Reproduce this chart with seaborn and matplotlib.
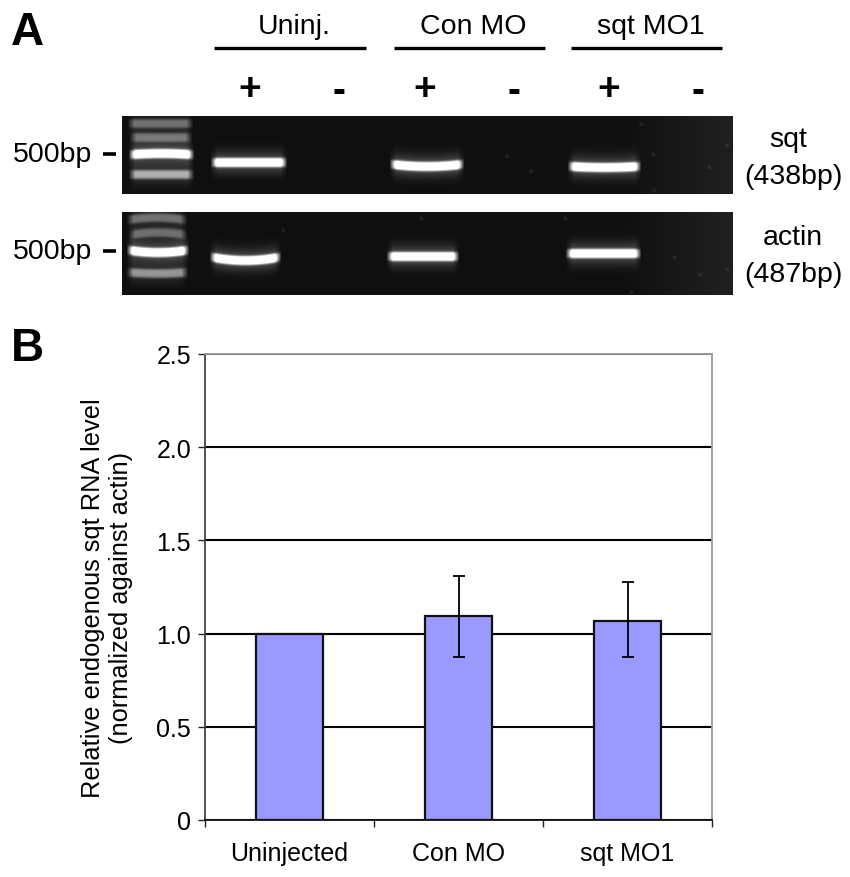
import matplotlib
matplotlib.use("Agg")
import matplotlib.pyplot as plt
import seaborn as sns
import pandas as pd
import numpy as np

# bar chart values
groups = ["Uninjected", "Con MO", "sqt MO1"]
levels = [1.0, 1.095, 1.07]
err_low = [0.0, 0.22, 0.195]
err_high = [0.0, 0.215, 0.205]
yticks = [0, 0.5, 1.0, 1.5, 2.0, 2.5]
ytick_labels = ["0", "0.5", "1.0", "1.5", "2.0", "2.5"]

# gel bands: x start, x end, y, brightness, sag (image pixels)
gel1_bands = [(131, 189, 124, 0.30, 0), (133, 188, 138, 0.30, 0),
              (132, 190, 155, 1.0, -1), (132, 190, 175, 0.50, 0),
              (214, 283, 163, 1.0, 0), (393, 460, 165, 1.0, 2), (571, 637, 167, 1.0, 1)]
gel2_bands = [(130, 183, 220, 0.30, -2), (132, 183, 235, 0.28, -2),
              (130, 185, 251, 1.0, 2), (130, 184, 273, 0.42, 1),
              (213, 277, 258, 1.0, 3), (390, 455, 257, 1.0, 0), (569, 637, 254, 1.0, 0)]
gel1_specks = [(507, 157), (531, 172), (654, 191), (641, 125), (653, 155), (727, 146), (709, 168)]
gel2_specks = [(283, 231), (421, 219), (565, 219), (700, 275), (631, 293), (727, 270), (674, 258)]

sns.set_theme(style="white")
plt.rcParams['font.family'] = ['Liberation Sans', 'DejaVu Sans']


def make_gel(x0, x1, y0, y1, bands, specks):
    xx, yy = np.meshgrid(np.arange(x0, x1), np.arange(y0, y1))
    img = 0.06 + 0.06 * np.clip((xx - 620) / 100, 0, 1)
    for b0, b1, by, amp, sag in bands:
        mid = (b0 + b1) / 2
        half = (b1 - b0) / 2
        cy = by + sag * (1 - ((xx - mid) / half) ** 2)
        edge = np.clip((xx - b0 + 4) / 7, 0, 1) * np.clip((b1 - xx + 4) / 7, 0, 1)
        core = np.exp(-((yy - cy) / 4.6) ** 4)
        halo = np.exp(-((yy - cy) / 11) ** 2)
        img += amp * edge * (core + 0.25 * halo)
    for sx, sy in specks:
        img += 0.10 * np.exp(-((xx - sx) ** 2 + (yy - sy) ** 2) / 3)
    return np.clip(img, 0, 1)


fig = plt.figure(figsize=(8.5, 8.78), dpi=100)

# overlay in image pixels for panel A
W, H = 850, 878
page = fig.add_axes([0, 0, 1, 1])
page.set_xlim(0, W)
page.set_ylim(H, 0)
page.axis('off')

for (y0, y1, bands, specks) in [(117, 195, gel1_bands, gel1_specks), (213, 296, gel2_bands, gel2_specks)]:
    page.imshow(make_gel(122, 733, y0, y1, bands, specks), cmap='gray', vmin=0, vmax=1,
                extent=(122, 733, y1, y0), aspect='auto', interpolation='bilinear')
page.set_xlim(0, W)
page.set_ylim(H, 0)

page.text(11, 33, "A", fontsize=33, fontweight='bold', color='black', ha='left', va='center')
page.text(11, 349, "B", fontsize=33, fontweight='bold', color='black', ha='left', va='center')

for x0, x1, name in [(214, 366, "Uninj."), (394, 545, "Con MO"), (571, 722, "sqt MO1")]:
    page.plot([x0, x1], [49, 49], color='black', lw=2.4, solid_capstyle='butt')
    page.text((x0 + x1) / 2 + 4, 27, name, fontsize=20.5, color='black', ha='center', va='center')

for x in [250, 425, 609]:
    page.text(x, 90, "+", fontsize=28, fontweight='bold', color='black', ha='center', va='center')
for x in [339, 514, 698]:
    page.text(x, 92, "-", fontsize=28, fontweight='bold', color='black', ha='center', va='center')

for y in [155, 252]:
    page.text(13, y, "500bp", fontsize=20.5, color='black', ha='left', va='center')
    page.plot([103, 116], [y, y], color='black', lw=2.6, solid_capstyle='butt')

# gene names and sizes on the right, each line on its own baseline
for x, y, label in [(788, 147, "sqt"), (793, 184, "(438bp)"), (793, 245, "actin"), (793, 282, "(487bp)")]:
    page.text(x, y, label, fontsize=20.5, color='black', ha='center', va='baseline')

# y label sits in the page overlay so it can hang off the axes like the original
page.text(107, 598, "Relative endogenous sqt RNA level\n(normalized against actin)", fontsize=18.3,
          color='black', rotation=90, ha='center', va='center', linespacing=1.2)

# panel B
ax = fig.add_axes([205 / W, 1 - 821 / H, (712 - 205) / W, (821 - 355) / H])
df = pd.DataFrame({"group": groups, "level": levels})
sns.barplot(data=df, x="group", y="level", color="#9999FF", saturation=1, width=0.4,
            edgecolor="#111111", linewidth=1.6, zorder=3, ax=ax)
ax.errorbar([1, 2], levels[1:], yerr=[err_low[1:], err_high[1:]], fmt='none',
            ecolor='black', elinewidth=1.3, capsize=4, capthick=1.3, zorder=4)

ax.set_xlim(-0.5, 2.5)
ax.set_ylim(0, 2.5)
ax.set_yticks(yticks)
ax.set_yticklabels(ytick_labels)
ax.yaxis.grid(True, color='black', lw=1.5)
ax.set_axisbelow(True)
ax.set_xlabel("")
ax.set_ylabel("")

# ticks sit between the categories
ax.set_xticks([-0.5, 0.5, 1.5, 2.5])
ax.set_xticklabels([])
ax.tick_params(axis='x', direction='out', length=5, width=1, color='#222222', bottom=True)
ax.tick_params(axis='y', direction='out', length=5, width=1, color='#222222', left=True,
               labelsize=18, labelcolor='black', pad=5)
for i, name in enumerate(groups):
    ax.annotate(name, (i, 0), xytext=(0, -33), textcoords='offset pixels',
                fontsize=18, color='black', ha='center', va='center', annotation_clip=False)

ax.spines['top'].set_color('#999999')
ax.spines['right'].set_color('#999999')
ax.spines['left'].set_color('#444444')
ax.spines['bottom'].set_color('#111111')
for s in ax.spines.values():
    s.set_linewidth(1.3)
    s.set_visible(True)

fig.savefig("out.png", dpi=100)
